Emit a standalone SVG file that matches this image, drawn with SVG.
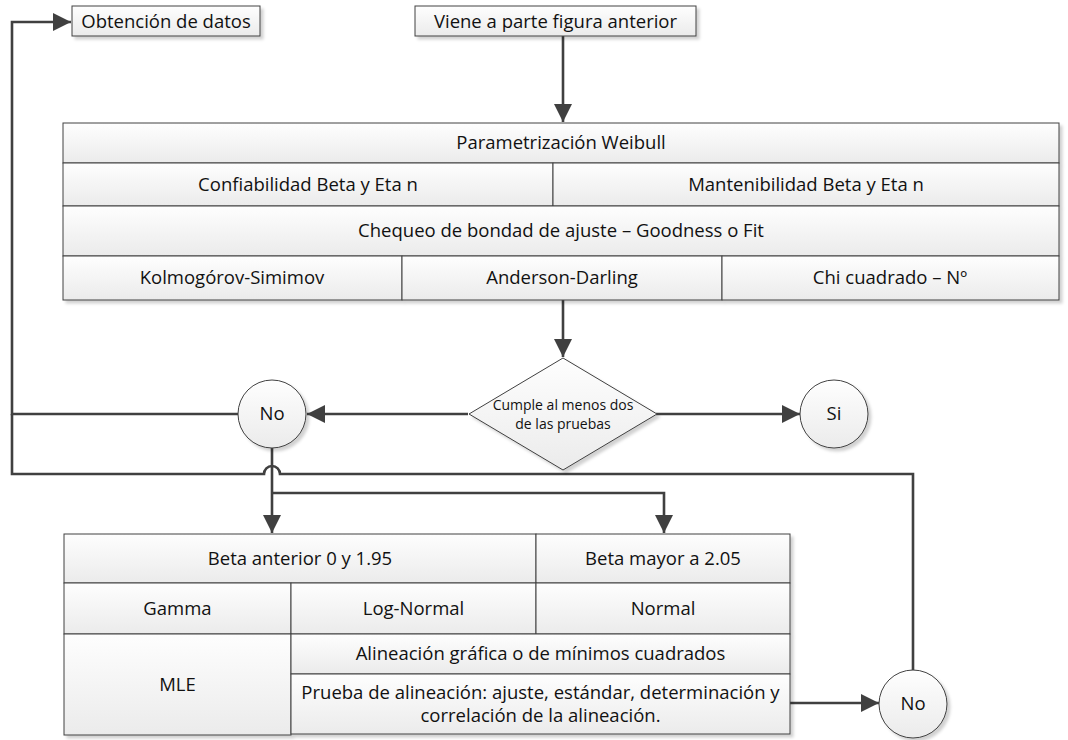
<svg xmlns="http://www.w3.org/2000/svg" width="1068" height="740" viewBox="0 0 1068 740">
  <style>
    .cell { fill: url(#cellFill); stroke: #404040; stroke-width: 1; }
    .shade { filter: url(#shadow); }
    .t { font-family: "Open Sans", "Liberation Sans", sans-serif; font-size: 18.5px; fill: #111; text-anchor: middle; }
    .ts { font-family: "Open Sans", "Liberation Sans", sans-serif; font-size: 14px; fill: #111; text-anchor: middle; }
    .wire { fill: none; stroke: #404040; stroke-width: 2.6; }
  </style>
  <defs>
    <linearGradient id="cellFill" x1="0" y1="0" x2="0" y2="1">
      <stop offset="0" stop-color="#fefefe"/>
      <stop offset="1" stop-color="#ebebeb"/>
    </linearGradient>
    <filter id="shadow" x="-5%" y="-5%" width="115%" height="130%">
      <feDropShadow dx="3" dy="3" stdDeviation="1.5" flood-color="#000" flood-opacity="0.18"/>
    </filter>
    <marker id="arrow" markerUnits="userSpaceOnUse" markerWidth="19" markerHeight="18" refX="18" refY="9" orient="auto">
      <path d="M0,0 L18,9 L0,18 z" fill="#404040"/>
    </marker>
  </defs>
  <rect width="1068" height="740" fill="#fff"/>

  <!-- connectors -->
  <g id="connectors">
    <!-- input from previous figure into the Weibull table -->
    <path class="wire" d="M563,36 V122" marker-end="url(#arrow)"/>
    <!-- table to decision -->
    <path class="wire" d="M563,300 V357" marker-end="url(#arrow)"/>
    <!-- decision: yes -->
    <path class="wire" d="M656,414 H800" marker-end="url(#arrow)"/>
    <!-- decision: no -->
    <path class="wire" d="M468,414 H307" marker-end="url(#arrow)"/>
    <!-- No back to data collection -->
    <path class="wire" d="M238,414 H12 V22 H71" marker-end="url(#arrow)"/>
    <!-- lower No loops back, hopping over the branch line -->
    <path class="wire" d="M913,671 V474 H280 A8,8 0 0 0 264,474 H12 V414"/>
    <!-- No to the alternative distributions -->
    <path class="wire" d="M272,448 V533" marker-end="url(#arrow)"/>
    <path class="wire" d="M272,493 H664 V533" marker-end="url(#arrow)"/>
    <!-- alignment test to No -->
    <path class="wire" d="M790,703 H879" marker-end="url(#arrow)"/>
  </g>

  <g id="obtencion">
    <rect class="cell shade" x="72" y="6" width="188" height="30"/>
    <text class="t" x="166" y="27.5">Obtención de datos</text>
  </g>

  <g id="viene">
    <rect class="cell shade" x="415" y="6" width="281" height="30"/>
    <text class="t" x="555.5" y="27.5">Viene a parte figura anterior</text>
  </g>

  <g id="weibull">
    <g class="shade">
      <rect class="cell" x="63" y="123" width="996" height="40"/>
      <rect class="cell" x="63" y="163" width="490" height="43"/>
      <rect class="cell" x="553" y="163" width="506" height="43"/>
      <rect class="cell" x="63" y="206" width="996" height="50"/>
      <rect class="cell" x="63" y="256" width="339" height="44"/>
      <rect class="cell" x="402" y="256" width="320" height="44"/>
      <rect class="cell" x="722" y="256" width="337" height="44"/>
    </g>
    <text class="t" x="561" y="149">Parametrización Weibull</text>
    <text class="t" x="308" y="190.5">Confiabilidad Beta y Eta n</text>
    <text class="t" x="806" y="190.5">Mantenibilidad Beta y Eta n</text>
    <text class="t" x="561" y="237">Chequeo de bondad de ajuste – Goodness o Fit</text>
    <text class="t" x="232" y="284">Kolmogórov-Simimov</text>
    <text class="t" x="562" y="284">Anderson-Darling</text>
    <text class="t" x="890" y="284">Chi cuadrado – Nº</text>
  </g>

  <g id="decision">
    <path class="cell shade" d="M563,358 L657,414 L563,470 L469,414 z"/>
    <text class="ts" x="563" y="410">Cumple al menos dos</text>
    <text class="ts" x="563" y="429">de las pruebas</text>
  </g>

  <g id="si">
    <circle class="cell shade" cx="834" cy="414" r="34"/>
    <text class="t" x="834" y="420">Si</text>
  </g>

  <g id="no-1">
    <circle class="cell shade" cx="272" cy="414" r="34"/>
    <text class="t" x="272" y="420">No</text>
  </g>

  <g id="alternativas">
    <g class="shade">
      <rect class="cell" x="64" y="534" width="472" height="49"/>
      <rect class="cell" x="536" y="534" width="254" height="49"/>
      <rect class="cell" x="64" y="583" width="227" height="51"/>
      <rect class="cell" x="291" y="583" width="245" height="51"/>
      <rect class="cell" x="536" y="583" width="254" height="51"/>
      <rect class="cell" x="64" y="634" width="227" height="101"/>
      <rect class="cell" x="291" y="634" width="499" height="40"/>
      <rect class="cell" x="291" y="674" width="499" height="60"/>
    </g>
    <text class="t" x="300" y="564.5">Beta anterior 0 y 1.95</text>
    <text class="t" x="663" y="564.5">Beta mayor a 2.05</text>
    <text class="t" x="177.5" y="614.5">Gamma</text>
    <text class="t" x="413.5" y="614.5">Log-Normal</text>
    <text class="t" x="663" y="614.5">Normal</text>
    <text class="t" x="177.5" y="691">MLE</text>
    <text class="t" x="540.5" y="660">Alineación gráfica o de mínimos cuadrados</text>
    <text class="t" x="540.5" y="699">Prueba de alineación: ajuste, estándar, determinación y</text>
    <text class="t" x="540.5" y="722">correlación de la alineación.</text>
  </g>

  <g id="no-2">
    <circle class="cell shade" cx="913" cy="704" r="34"/>
    <text class="t" x="913" y="710">No</text>
  </g>
</svg>
